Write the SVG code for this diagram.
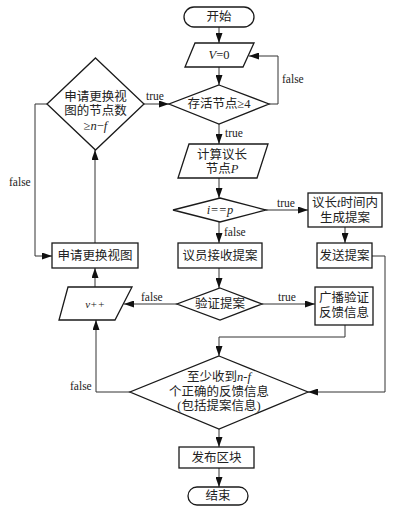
<svg xmlns="http://www.w3.org/2000/svg" width="401" height="514" viewBox="0 0 401 514">
<style>
.s{fill:#fff;stroke:#1a1a1a;stroke-width:1.3}
.c{fill:none;stroke:#333;stroke-width:1}
.t{font-family:"Liberation Serif","Noto Sans CJK SC",serif;font-size:12.5px;fill:#222;text-anchor:middle;dominant-baseline:central}
.l{font-family:"Liberation Serif",serif;font-size:11.5px;fill:#222}
.i{font-style:italic}
</style>
<defs>
<marker id="a" markerUnits="userSpaceOnUse" markerWidth="10" markerHeight="7" refX="10" refY="3.5" orient="auto">
<path d="M0,0 L10,3.5 L0,7 Z" fill="#111"/>
</marker>
</defs>
<rect width="401" height="514" fill="#fff"/>
<g id="connectors" class="c">
<path d="M219,27 V43" marker-end="url(#a)"/>
<path d="M219,67 V85" marker-end="url(#a)"/>
<path d="M269,104 H278 V56 H249" marker-end="url(#a)"/>
<path d="M219,124 V144" marker-end="url(#a)"/>
<path d="M219,178 V198" marker-end="url(#a)"/>
<path d="M266,210 H308" marker-end="url(#a)"/>
<path d="M345,227 V243" marker-end="url(#a)"/>
<path d="M219,222 V243" marker-end="url(#a)"/>
<path d="M219,268 V288" marker-end="url(#a)"/>
<path d="M262,304 H315" marker-end="url(#a)"/>
<path d="M177,304 H124" marker-end="url(#a)"/>
<path d="M95,287 V268" marker-end="url(#a)"/>
<path d="M95,243 V150" marker-end="url(#a)"/>
<path d="M144,104 H169" marker-end="url(#a)"/>
<path d="M47,104 H35 V256 H52" marker-end="url(#a)"/>
<path d="M345,325 V337 H219 V356" marker-end="url(#a)"/>
<path d="M372,256 H385 V392 H308" marker-end="url(#a)"/>
<path d="M130,392 H96 V320" marker-end="url(#a)"/>
<path d="M219,429 V447" marker-end="url(#a)"/>
<path d="M219,468 V487" marker-end="url(#a)"/>
</g>
<g id="labels">
<text class="l" x="282" y="83">false</text>
<text class="l" x="225" y="137">true</text>
<text class="l" x="277" y="207">true</text>
<text class="l" x="224" y="236">false</text>
<text class="l" x="278" y="301">true</text>
<text class="l" x="141" y="301">false</text>
<text class="l" x="146" y="100">true</text>
<text class="l" x="9" y="186">false</text>
<text class="l" x="70" y="390">false</text>
</g>
<g id="start"><rect class="s" x="184" y="7" width="70" height="20" rx="10"/><text class="t" x="219" y="17">开始</text></g>
<g id="v0"><path class="s" d="M195,43 H254 L243,67 H185 Z"/><text class="t" x="219" y="55"><tspan class="i">V</tspan>=0</text></g>
<g id="alive"><path class="s" d="M219,85 L269,104 L219,124 L169,104 Z"/><text class="t" x="219" y="104">存活节点≥4</text></g>
<g id="calc"><path class="s" d="M189,144 H268 L257,178 H178 Z"/><text class="t" x="222" y="155">计算议长</text><text class="t" x="222" y="169">节点<tspan class="i">P</tspan></text></g>
<g id="ieqp"><path class="s" d="M220,198 L266,210 L220,222 L173,210 Z"/><text class="t i" x="220" y="210">i==p</text></g>
<g id="gen"><rect class="s" x="308" y="193" width="74" height="34"/><text class="t" x="345" y="203">议长<tspan class="i">t</tspan>时间内</text><text class="t" x="345" y="218">生成提案</text></g>
<g id="send"><rect class="s" x="317" y="243" width="55" height="25"/><text class="t" x="344.5" y="256">发送提案</text></g>
<g id="recv"><rect class="s" x="178" y="243" width="84" height="25"/><text class="t" x="220" y="256">议员接收提案</text></g>
<g id="verify"><path class="s" d="M220,288 L262,304 L220,320 L177,304 Z"/><text class="t" x="220" y="304">验证提案</text></g>
<g id="broadcast"><rect class="s" x="315" y="287" width="58" height="38"/><text class="t" x="344" y="298">广播验证</text><text class="t" x="344" y="313">反馈信息</text></g>
<g id="vpp"><path class="s" d="M68,287 H132 L115,320 H59 Z"/><text class="t i" x="95" y="304" style="font-size:11px">v++</text></g>
<g id="reqview"><rect class="s" x="52" y="243" width="86" height="25"/><text class="t" x="95" y="256">申请更换视图</text></g>
<g id="reqcount"><path class="s" d="M95.5,58 L144,104 L95.5,150 L47,104 Z"/><text class="t" x="95.5" y="97">申请更换视</text><text class="t" x="95.5" y="111">图的节点数</text><text class="t" x="95.5" y="126">≥<tspan class="i">n</tspan>−<tspan class="i">f</tspan></text></g>
<g id="quorum"><path class="s" d="M219,356 L308,392 L219,429 L130,392 Z"/><text class="t" x="219" y="377">至少收到<tspan class="i">n</tspan>-<tspan class="i">f</tspan></text><text class="t" x="219" y="392">个正确的反馈信息</text><text class="t" x="219" y="406">(包括提案信息)</text></g>
<g id="publish"><rect class="s" x="179" y="447" width="75" height="21"/><text class="t" x="216.5" y="458">发布区块</text></g>
<g id="end"><rect class="s" x="188" y="487" width="60" height="18" rx="9"/><text class="t" x="218" y="496">结束</text></g>
</svg>
